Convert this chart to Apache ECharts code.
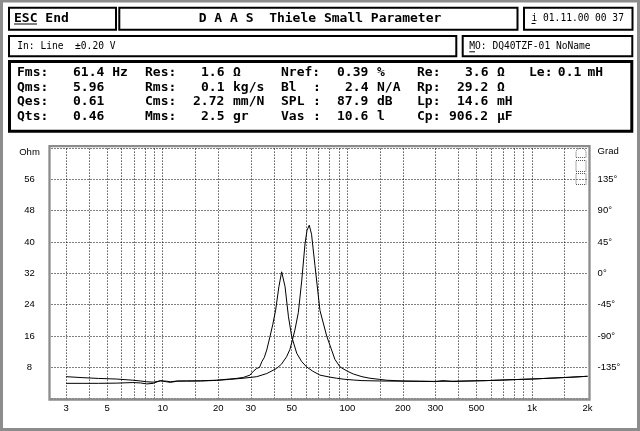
<!DOCTYPE html>
<html><head><meta charset="utf-8">
<script src="https://cdn.jsdelivr.net/npm/echarts@6/dist/echarts.min.js"></script>
<style>html,body{margin:0;padding:0;background:#fff}#c{width:640px;height:431px}</style>
</head><body><div id="c"></div>
<script>
// ---- data ----
const freqFree = [3, 3.7, 4.5, 5.6, 6.9, 7.6, 8.2, 8.9, 9.7, 10.5, 11, 12, 13.5, 16, 19.6, 23, 27.3, 32.3, 36.6, 41.4, 44, 46.9, 48.9, 50.3, 52, 54.3, 56.6, 59, 60.5, 62.2, 64, 66.8, 71.1, 77.3, 85.7, 91.3, 100, 107.6, 120, 132.6, 150, 163, 200, 247, 300, 373, 450, 568, 700, 861, 1000, 1300, 1600, 2000];
const zFree = [3.9, 3.9, 3.9, 3.95, 4.1, 4.0, 3.75, 3.9, 4.6, 4.3, 4.15, 4.45, 4.5, 4.5, 4.65, 4.9, 5.2, 5.6, 6.4, 7.7, 8.8, 10.7, 12.6, 14.8, 17.5, 22, 30, 39.5, 43, 44.3, 42, 34, 22.5, 16, 10, 8.1, 7, 6.3, 5.6, 5.2, 4.9, 4.7, 4.5, 4.45, 4.4, 4.45, 4.5, 4.6, 4.75, 4.9, 5.0, 5.25, 5.45, 5.7];
const freqMass = [3, 3.7, 4.5, 5.6, 6.9, 7.6, 8.2, 8.9, 9.7, 10.5, 11, 12, 13.5, 16, 19.6, 23, 25, 27.3, 29.7, 31, 32.3, 33.5, 34.4, 35.5, 36.6, 38.1, 39.5, 40.9, 42.6, 44.1, 46, 48, 50, 53.2, 56.5, 60.2, 65, 71.1, 80, 87.6, 96, 107.6, 120, 150, 200, 247, 300, 330, 373, 450, 568, 700, 861, 1000, 1300, 1600, 2000];
const zMass = [5.6, 5.35, 5.15, 5.0, 4.7, 4.5, 4.3, 4.2, 4.5, 4.45, 4.3, 4.5, 4.5, 4.55, 4.7, 5.0, 5.15, 5.4, 6.0, 7.0, 7.7, 8.0, 9.4, 10.5, 12.4, 15.8, 19, 22.6, 28.6, 32.4, 28.6, 20.9, 15.8, 11.6, 9.5, 8.1, 7.0, 6.0, 5.5, 5.2, 4.95, 4.75, 4.6, 4.5, 4.45, 4.4, 4.35, 4.6, 4.35, 4.5, 4.6, 4.75, 4.9, 5.0, 5.25, 5.45, 5.7];

const xGridFreqs = [3, 4, 5, 6, 7, 8, 9, 10, 15, 20, 30, 40, 50, 60, 70, 80, 90, 100, 150, 200, 300, 400, 500, 600, 700, 800, 900, 1000, 1500];
const xLabelFreqs = [3, 5, 10, 20, 30, 50, 100, 200, 300, 500, 1000, 2000];
const xLabelTexts = ['3', '5', '10', '20', '30', '50', '100', '200', '300', '500', '1k', '2k'];

const headerTitle = 'D A A S  Thiele Small Parameter';
const headerLeft = 'ESC End';
const headerDate = 'i 01.11.00 00 37';
const inputText = 'In: Line  \u00b10.20 V';
const modelText = 'MO: DQ40TZF-01 NoName';

// parameter table: [text, column]
const paramRow1 = [['Fms:',0],['61.4 Hz',7],['Res:',16],['1.6',23],['\u03a9',27],['Nref:',33],['0.39',40],['%',45],['Re:',50],['3.6',56],['\u03a9',60],['Le:',64],['0.1',67.6],['mH',71.3]];
const paramRow2 = [['Qms:',0],['5.96',7],['Rms:',16],['0.1',23],['kg/s',27],['Bl',33],[':',37],['2.4',41],['N/A',45],['Rp:',50],['29.2',55],['\u03a9',60]];
const paramRow3 = [['Qes:',0],['0.61',7],['Cms:',16],['2.72',22],['mm/N',27],['SPL',33],[':',37],['87.9',40],['dB',45],['Lp:',50],['14.6',55],['mH',60]];
const paramRow4 = [['Qts:',0],['0.46',7],['Mms:',16],['2.5',23],['gr',27],['Vas',33],[':',37],['10.6',40],['l',45],['Cp:',50],['906.2',54],['\u03bcF',60]];
const paramRows = [paramRow1, paramRow2, paramRow3, paramRow4];

// ---- styles ----
const MONO = '"DejaVu Sans Mono", "Liberation Mono", monospace';
const SANS = '"Liberation Sans", Arial, sans-serif';
const dots = [1, 2];
const hatch = '#8c8c8c';

const g = [];
function box(x, y, w, h, lw, stroke) {
  g.push({type: 'rect', z: 20, silent: true, shape: {x, y, width: w, height: h},
    style: {fill: 'none', stroke: stroke || '#000', lineWidth: lw}});
}
function txt(t, x, y, font, align) {
  g.push({type: 'text', z: 21, silent: true, x: 0, y: 0,
    style: {text: t, x, y, font, fill: '#000', textAlign: align || 'left', textVerticalAlign: 'middle', align: align || 'left', verticalAlign: 'middle'}});
}
function uline(x1, x2, y) {
  g.push({type: 'line', z: 21, silent: true, shape: {x1, y1: y, x2, y2: y}, style: {stroke: '#000', lineWidth: 1}});
}

// outer hatched frame
box(1.5, 1, 637, 428.5, 3, hatch);
// header boxes
box(9, 7.7, 107, 22, 2);
box(119.3, 7.7, 398.2, 22, 2);
box(524, 7.7, 108.5, 22, 2);
box(9, 36, 447.3, 20.3, 2);
box(462.7, 36, 169.6, 20.3, 2);
box(9.5, 61.5, 622.3, 69.7, 3);
// plot frame (hatched)
box(49.5, 146.2, 540, 253.3, 2.3, hatch);
// small icon top-right of plot
g.push({type: 'rect', z: 20, silent: true, shape: {x: 576, y: 148.5, width: 10, height: 9, r: [4, 4, 0, 0]}, style: {fill: 'none', stroke: '#555', lineWidth: 1, lineDash: [1, 1]}});
g.push({type: 'rect', z: 20, silent: true, shape: {x: 576, y: 160.5, width: 10, height: 11}, style: {fill: 'none', stroke: '#555', lineWidth: 1, lineDash: [1, 1]}});
g.push({type: 'rect', z: 20, silent: true, shape: {x: 576, y: 173.5, width: 10, height: 11}, style: {fill: 'none', stroke: '#555', lineWidth: 1, lineDash: [1, 1]}});

const BOLD = 'bold 13px ' + MONO;
const THIN = '9.6px ' + MONO;
txt(headerLeft, 14, 18.5, BOLD);
uline(14, 37, 24);
txt(headerTitle, 320, 18.5, BOLD, 'center');
txt(headerDate, 531.5, 18.5, THIN);
uline(531.5, 535.5, 23.5);
txt(inputText, 17.3, 46.3, THIN);
txt(modelText, 469.3, 46.3, THIN);
uline(469.3, 475, 51.8);

const rowY = [72.3, 87.2, 102.1, 117];
paramRows.forEach((row, i) => {
  row.forEach(([t, col]) => txt(t, 17 + col * 8, rowY[i], BOLD));
});

// vertical grid lines + x labels via markLine on the log axis
const mlData = xGridFreqs.map(f => ({xAxis: f, label: {show: false}}));
xLabelFreqs.forEach((f, i) => {
  mlData.push({xAxis: f, lineStyle: {color: 'rgba(0,0,0,0)'},
    label: {show: true, position: 'start', color: '#000', formatter: xLabelTexts[i]}});
});

const chart = echarts.init(document.getElementById('c'));
chart.setOption({
  animation: false,
  backgroundColor: '#fff',
  grid: {left: 51.5, right: 52.4, top: 148.1, bottom: 32.4, containLabel: false},
  xAxis: {type: 'log', logBase: 10, min: 2.5, max: 2001,
    axisLine: {show: false}, axisTick: {show: false}, axisLabel: {show: false}, splitLine: {show: false}},
  yAxis: [
    {type: 'value', min: 0, max: 64, interval: 8, position: 'left',
      axisLine: {show: false}, axisTick: {show: false},
      splitLine: {show: true, lineStyle: {color: '#000', width: 1, type: dots}},
      axisLabel: {color: '#000', fontSize: 9.5, fontFamily: SANS, align: 'center', margin: 22,
        formatter: v => v === 64 ? '{t|Ohm}' : (v === 0 ? '' : String(v)),
        rich: {t: {fontSize: 9.5, fontFamily: SANS, color: '#000', padding: [8, 0, 0, 0]}}}},
    {type: 'value', min: -180, max: 180, interval: 45, position: 'right',
      axisLine: {show: false}, axisTick: {show: false}, splitLine: {show: false},
      axisLabel: {color: '#000', fontSize: 9.5, fontFamily: SANS, align: 'left', margin: 10,
        formatter: v => v === 180 ? '{t|Grad}' : (v === -180 ? '' : v + '\u00b0'),
        rich: {t: {fontSize: 9.5, fontFamily: SANS, color: '#000', padding: [7, 0, 0, 0]}}}}
  ],
  series: [
    {type: 'line', name: 'free', data: freqFree.map((f, i) => [f, zFree[i]]),
      symbol: 'none', lineStyle: {color: '#000', width: 1}, z: 5,
      markLine: {silent: true, symbol: ['none', 'none'], animation: false,
        lineStyle: {color: '#000', width: 1, type: dots},
        label: {color: '#000', fontSize: 9.5, fontFamily: SANS, distance: 5, position: 'start'},
        emphasis: {disabled: true},
        data: mlData}},
    {type: 'line', name: 'mass', data: freqMass.map((f, i) => [f, zMass[i]]),
      symbol: 'none', lineStyle: {color: '#000', width: 1}, z: 5}
  ],
  graphic: {elements: g}
});
</script></body></html>
